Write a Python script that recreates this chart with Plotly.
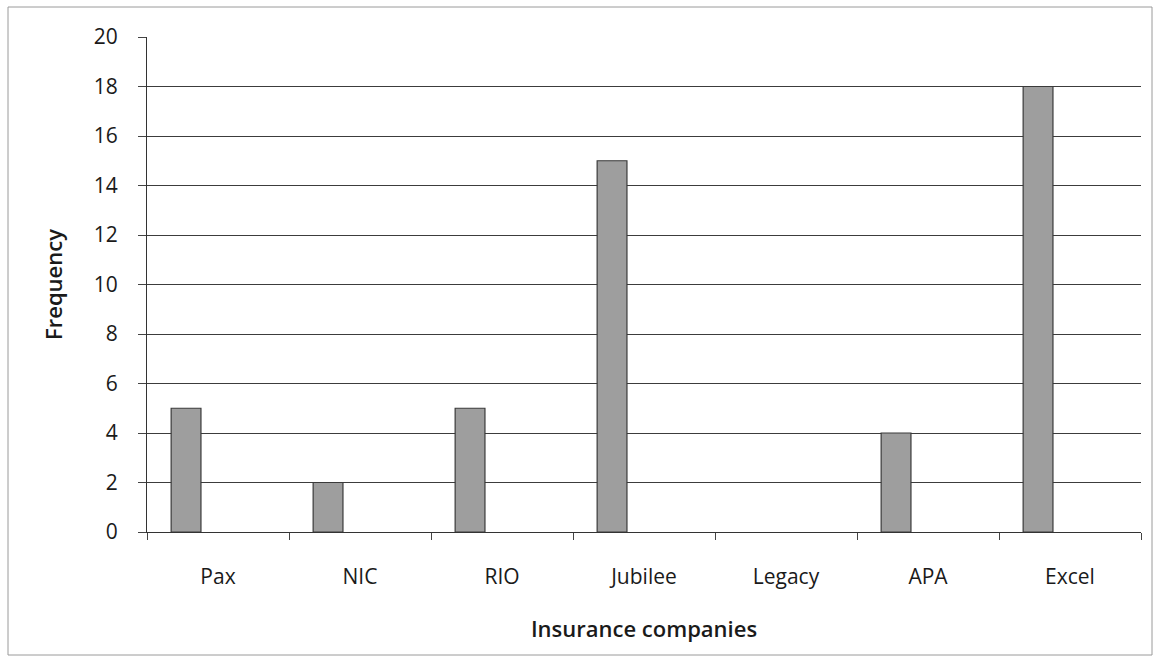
import plotly.graph_objects as go

companies = ["Pax", "NIC", "RIO", "Jubilee", "Legacy", "APA", "Excel"]
frequency = [5, 2, 5, 15, 0, 4, 18]
y_ticks = [0, 2, 4, 6, 8, 10, 12, 14, 16, 18, 20]

font_family = "Open Sans, Liberation Sans, sans-serif"

fig = go.Figure()
fig.add_trace(go.Bar(
    x=companies,
    y=frequency,
    width=0.21,
    offset=-0.33,
    marker=dict(color="#9e9e9e",
                line=dict(color="#3a3a3a", width=[1.2 if v > 0 else 0 for v in frequency])),
    showlegend=False,
))

L, R, T, B = 147, 19, 37, 140
W, H = 1160, 672
pw = W - L - R
ph = H - T - B

fig.update_layout(
    width=W, height=H,
    margin=dict(l=L, r=R, t=T, b=B, pad=0),
    paper_bgcolor="white",
    plot_bgcolor="white",
    font=dict(family=font_family, size=21, color="#1a1a1a"),
    xaxis=dict(
        type="category",
        showline=True, linecolor="#333", linewidth=1.2,
        ticks="outside", tickson="boundaries", ticklen=7, tickcolor="#444",
        showgrid=False,
        ticklabelstandoff=26,
        tickfont=dict(size=21),
        title=dict(text="Insurance companies", font=dict(size=22, weight=600), standoff=32),
    ),
    yaxis=dict(
        range=[0, 20], tickvals=y_ticks,
        showline=True, linecolor="#333", linewidth=1.2,
        ticks="outside", ticklen=8, tickcolor="#444",
        showgrid=True, gridcolor="#3c3c3c", gridwidth=1,
        zeroline=False,
        ticklabelstandoff=16,
        tickfont=dict(size=21),
        title=dict(text="Frequency", font=dict(size=22, weight=600), standoff=24),
    ),
)

# outer chart border (paper coordinates relative to plot area)
x0 = (8 - L) / pw
x1 = (1152 - L) / pw
y1 = (H - B - 7) / ph
y0 = (H - B - 655) / ph
fig.add_shape(type="rect", xref="paper", yref="paper",
              x0=x0, x1=x1, y0=y0, y1=y1,
              line=dict(color="#9a9a9a", width=1), layer="below")

fig.write_html("out.html")
